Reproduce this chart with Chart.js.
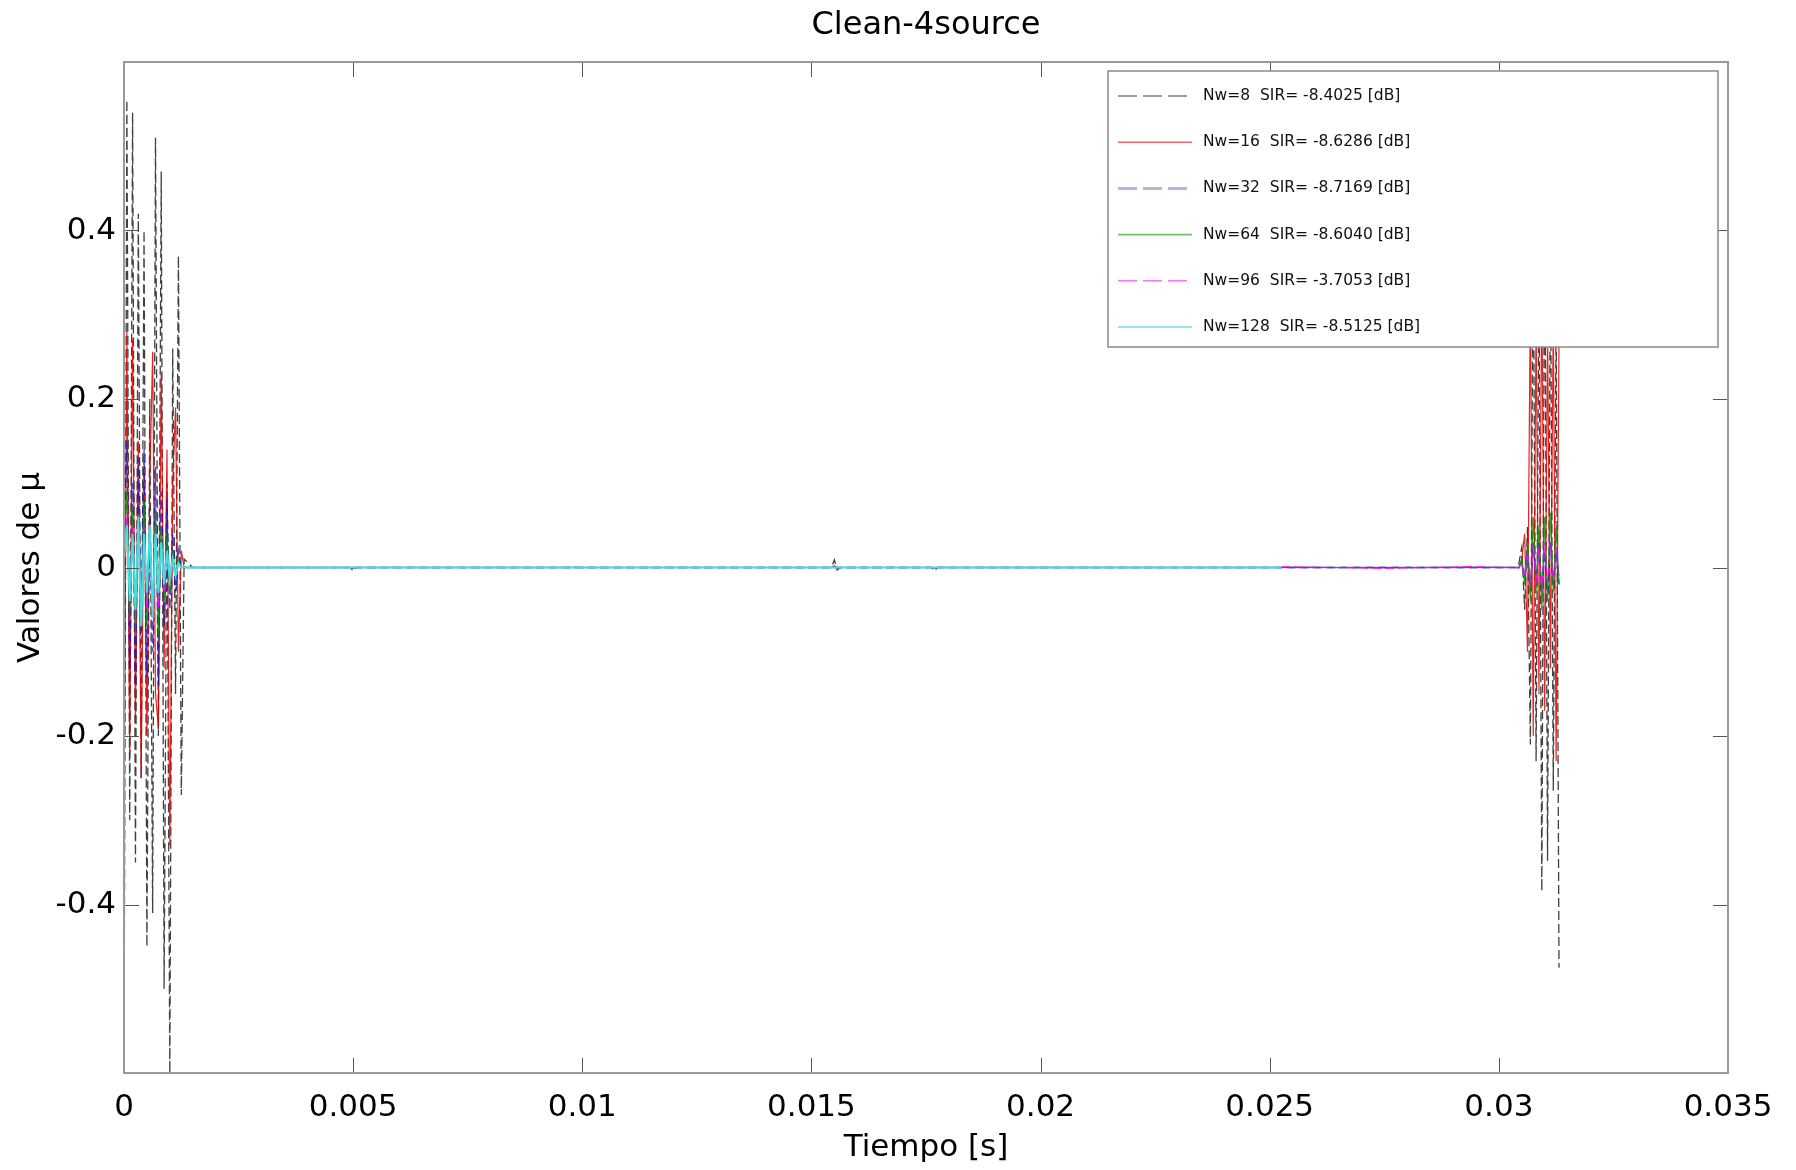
<!DOCTYPE html>
<html><head><meta charset="utf-8">
<script src="https://cdn.jsdelivr.net/npm/chart.js@4.4.1/dist/chart.umd.min.js"></script>
<style>html,body{margin:0;padding:0;background:#fff;}canvas{display:block;}</style>
</head><body>
<canvas id="grafico" width="1796" height="1170"></canvas>
<script>
// ---- data ----
const fs = 16000; // sample rate (Hz) used to convert sample index -> seconds
const muestras = [0,1,2,3,4,5,6,7,8,9,10,11,12,13,14,15,16,17,18,19,20,21,
  24,40,79,80,81,156,157,158,247,248,249,250,282,283,284,360,404,405,440,470,
  486,487,488,489,490,491,492,493,494,495,496,497,498,499,500,501];

const titulo = 'Clean-4source';
const etiquetas = [
  'Nw=8  SIR= -8.4025 [dB]',
  'Nw=16  SIR= -8.6286 [dB]',
  'Nw=32  SIR= -8.7169 [dB]',
  'Nw=64  SIR= -8.6040 [dB]',
  'Nw=96  SIR= -3.7053 [dB]',
  'Nw=128  SIR= -8.5125 [dB]'
];

const nw8 = [-0.60,0.555,-0.30,0.54,-0.35,0.42,-0.25,0.40,-0.45,0.20,-0.41,0.51,-0.20,0.47,-0.50,0.10,-0.60,0.26,-0.15,0.37,-0.27,0.01,
  0,0,0,-0.004,0,0,0.002,0,0,0.009,-0.003,0,0,-0.004,0,0,0,0,0,0,
  0,0.005,0.024,-0.05,0.048,-0.21,0.40,-0.23,0.35,-0.384,0.45,-0.348,0.38,-0.265,0.30,-0.475];
const nw16 = [-0.30,0.28,-0.22,0.27,-0.18,0.15,-0.25,0.12,-0.20,0.10,0.256,-0.15,-0.19,0.23,-0.12,0.14,-0.33,0.10,0.19,-0.10,0.02,0,
  0,0,0,-0.001,0,0,0,0,0,0.002,0,0,0,-0.001,0,0,0,0,0,0,
  0,0,0.01,0.04,-0.10,0.32,-0.20,0.30,-0.15,0.34,-0.17,0.28,-0.12,0.30,-0.23,0.27];
const nw32 = [0.05,0.15,-0.12,0.10,-0.14,0.13,-0.08,0.14,-0.13,0.06,-0.10,0.12,-0.14,0.09,-0.07,0.08,-0.05,0.04,-0.03,0.02,0,0,
  0,0,0,0,0,0,0,0,0,0,0,0,0,0,0,0,0,0,0,0,
  0,0,0.005,-0.01,0.02,-0.03,0.03,-0.02,0.03,-0.03,0.02,-0.03,0.03,-0.02,0.02,-0.02];
const nw64 = [0.03,0.09,-0.06,0.07,-0.08,0.06,-0.05,0.08,-0.07,0.05,-0.06,0.07,-0.08,0.05,-0.04,0.04,-0.03,0.02,-0.01,0.01,0,0,
  0,0,0,0,0,0,0,0,0,0,0,0,0,0,0,0,0,0,0,0,
  0,0,0.01,-0.02,0.03,-0.04,0.06,-0.03,0.05,-0.05,0.06,-0.04,0.065,-0.03,0.05,-0.02];
const nw96 = [0.02,0.06,-0.04,0.05,-0.06,0.04,-0.03,0.05,-0.05,0.03,-0.04,0.05,-0.05,0.03,-0.03,0.02,-0.02,0.01,-0.01,0.005,0,0,
  0,0,0,0,0,0,0,0,0,0,0,0,0,0,0,0,0,0.001,-0.001,0.001,
  0,-0.001,0.005,-0.01,0.02,-0.02,0.03,-0.02,0.025,-0.03,0.03,-0.02,0.025,-0.015,0.02,-0.01];
const nw128 = [0.01,0.05,-0.04,0.04,-0.05,0.06,-0.07,0.04,-0.03,0.05,-0.06,0.04,-0.03,0.03,-0.02,0.02,-0.015,0.01,-0.01,0.005,0,0,
  0,0,0,0,0,0,0,0,0,0,0,0,0,0,0,0,0,null,null,null,
  null,null,null,null,null,null,null,null,null,null,null,null,null,null,null,null];

const xTicks = [0,0.005,0.01,0.015,0.02,0.025,0.03,0.035];
const yTicks = [-0.4,-0.2,0,0.2,0.4];

// ---- styles ----
const estilos = [
  {color:'rgba(30,30,30,0.85)', width:1.3, dash:[9,4], lColor:'#808080', lWidth:1.6, lDash:[19,6]},
  {color:'rgba(225,0,0,0.85)', width:1.2, dash:[], lColor:'#e06a6a', lWidth:1.6, lDash:[]},
  {color:'rgba(20,20,200,0.75)', width:1.5, dash:[9,4], lColor:'#b6b6e6', lWidth:3, lDash:[19,6]},
  {color:'rgba(0,150,0,0.85)', width:1.2, dash:[], lColor:'#70c070', lWidth:1.6, lDash:[]},
  {color:'rgba(255,0,255,0.9)', width:1.2, dash:[9,4], lColor:'#ff70ff', lWidth:1.6, lDash:[19,6]},
  {color:'rgba(70,220,220,1)', width:2, dash:[], lColor:'#70e0e0', lWidth:1.6, lDash:[]}
];
const valores = [nw8, nw16, nw32, nw64, nw96, nw128];

Chart.defaults.font.family = "'DejaVu Sans', sans-serif";
Chart.defaults.color = '#000';

const fmt = v => String(parseFloat(Number(v).toFixed(4)));

const tituloPlugin = {
  id:'tituloPlugin',
  afterDraw(chart){
    const {ctx, chartArea:a} = chart;
    ctx.save();
    ctx.font = "32px 'DejaVu Sans'";
    ctx.fillStyle = '#000';
    ctx.textAlign = 'center';
    ctx.textBaseline = 'middle';
    ctx.fillText(titulo, (a.left + a.right) / 2, 26);
    ctx.restore();
  }
};

const marco = {
  id:'marco',
  afterDatasetsDraw(chart){
    const {ctx, chartArea:a, scales:{x, y}} = chart;
    ctx.save();
    ctx.strokeStyle = '#555'; ctx.lineWidth = 1;
    const L = 15;
    ctx.beginPath();
    xTicks.forEach(v => {
      const px = Math.round(x.getPixelForValue(v)) + 0.5;
      ctx.moveTo(px, a.bottom); ctx.lineTo(px, a.bottom - L);
      ctx.moveTo(px, a.top); ctx.lineTo(px, a.top + L);
    });
    yTicks.forEach(v => {
      const py = Math.round(y.getPixelForValue(v)) + 0.5;
      ctx.moveTo(a.left, py); ctx.lineTo(a.left + L, py);
      ctx.moveTo(a.right, py); ctx.lineTo(a.right - L, py);
    });
    ctx.stroke();
    ctx.strokeStyle = '#999'; ctx.lineWidth = 2;
    ctx.strokeRect(a.left, a.top, a.right - a.left, a.bottom - a.top);
    ctx.restore();
  }
};

const leyenda = {
  id:'leyenda',
  afterDraw(chart){
    const {ctx, chartArea:a} = chart;
    const w = 610, h = 276;
    const bx = a.right - w - 10, by = a.top + 9;
    ctx.save();
    ctx.fillStyle = '#fff';
    ctx.fillRect(bx, by, w, h);
    ctx.strokeStyle = '#8a8a8a'; ctx.lineWidth = 1.5;
    ctx.strokeRect(bx, by, w, h);
    ctx.font = "15.5px 'DejaVu Sans'";
    ctx.textBaseline = 'middle';
    etiquetas.forEach((t, i) => {
      const st = estilos[i];
      const ry = by + 25 + i * 46.2;
      ctx.beginPath();
      ctx.setLineDash(st.lDash);
      ctx.strokeStyle = st.lColor; ctx.lineWidth = st.lWidth;
      ctx.moveTo(bx + 10, ry); ctx.lineTo(bx + 84, ry);
      ctx.stroke();
      ctx.setLineDash([]);
      ctx.fillStyle = '#111';
      ctx.fillText(t, bx + 95, ry);
    });
    ctx.restore();
  }
};

new Chart(document.getElementById('grafico'), {
  type:'line',
  data:{
    datasets: valores.map((vals, i) => ({
      label: etiquetas[i],
      data: muestras.map((k, j) => ({x: k / fs, y: vals[j]})),
      borderColor: estilos[i].color,
      borderWidth: estilos[i].width,
      borderDash: estilos[i].dash,
      pointRadius: 0,
      tension: 0,
      fill: false,
      spanGaps: false,
      order: 6 - i
    }))
  },
  options:{
    responsive:false,
    animation:false,
    devicePixelRatio:1,
    layout:{padding:{left:0, right:68, top:62, bottom:0}},
    plugins:{
      legend:{display:false},
      tooltip:{enabled:false},
      title:{display:false}
    },
    scales:{
      x:{
        type:'linear', min:0, max:0.035,
        grid:{display:false}, border:{display:false},
        afterBuildTicks: s => { s.ticks = xTicks.map(v => ({value:v})); },
        afterFit: s => { s.height = 97; },
        ticks:{color:'#000', font:{size:31}, padding:8, maxRotation:0, autoSkip:false, callback: v => fmt(v)},
        title:{display:true, text:'Tiempo [s]', color:'#000', font:{size:31}, padding:{top:0, bottom:3}}
      },
      y:{
        type:'linear', min:-0.6, max:0.6,
        grid:{display:false}, border:{display:false},
        afterBuildTicks: s => { s.ticks = yTicks.map(v => ({value:v})); },
        afterFit: s => { s.width = 124; },
        ticks:{color:'#000', font:{size:31}, padding:0, autoSkip:false, callback: v => fmt(v)},
        title:{display:true, text:'Valores de μ', color:'#000', font:{size:31}, padding:{top:12, bottom:0}}
      }
    }
  },
  plugins:[marco, leyenda, tituloPlugin]
});
</script>
</body></html>
